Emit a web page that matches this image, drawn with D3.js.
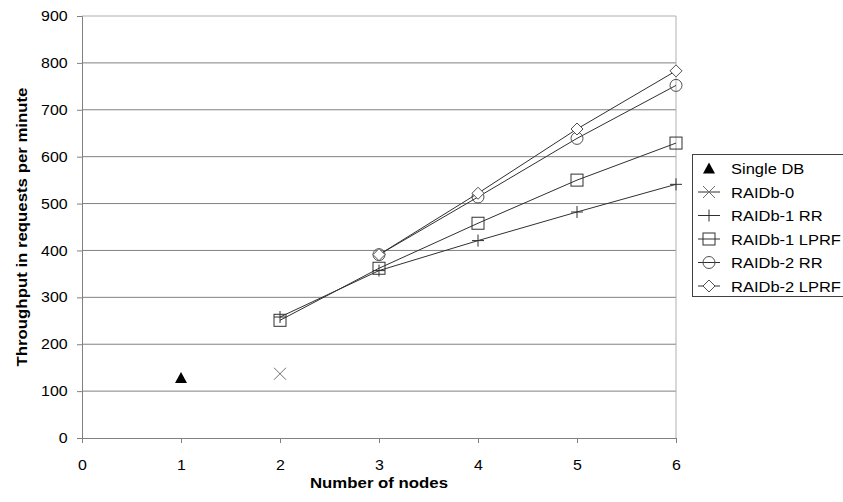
<!DOCTYPE html>
<html>
<head>
<meta charset="utf-8">
<script src="https://cdn.jsdelivr.net/npm/d3@7"></script>
<style>
  body { margin: 0; background: #fff; }
  text { font-family: "Liberation Sans", Arial, sans-serif; }
</style>
</head>
<body>
<svg id="chart"></svg>
<script>
// values
const yTicks = [0, 100, 200, 300, 400, 500, 600, 700, 800, 900];
const xTicks = [0, 1, 2, 3, 4, 5, 6];

const singleDB   = [[1, 128]];
const raidb0     = [[2, 137]];
const raidb1RR   = [[2, 258], [3, 357], [4, 421], [5, 482], [6, 541]];
const raidb1LPRF = [[2, 251], [3, 362], [4, 458], [5, 550], [6, 629]];
const raidb2RR   = [[3, 391], [4, 514], [5, 639], [6, 752]];
const raidb2LPRF = [[3, 391], [4, 522], [5, 659], [6, 783]];

const series = [
  { name: "Single DB",     data: singleDB,   symbol: "triangle" },
  { name: "RAIDb-0",       data: raidb0,     symbol: "x" },
  { name: "RAIDb-1 RR",    data: raidb1RR,   symbol: "plus" },
  { name: "RAIDb-1 LPRF",  data: raidb1LPRF, symbol: "square" },
  { name: "RAIDb-2 RR",    data: raidb2RR,   symbol: "circle" },
  { name: "RAIDb-2 LPRF",  data: raidb2LPRF, symbol: "diamond" }
];

const width = 843, height = 502;
const margin = { top: 16, right: 167, bottom: 64, left: 82 };
const textStretch = 1.1;   // the original font is a bit wider than Arial

const svg = d3.select("#chart")
  .attr("width", width)
  .attr("height", height);

const x = d3.scaleLinear()
  .domain([0, 6])
  .range([margin.left, width - margin.right]);

const y = d3.scaleLinear()
  .domain([0, 900])
  .range([height - margin.bottom, margin.top]);

// gridlines
svg.append("g")
  .selectAll("line")
  .data(yTicks.filter(d => d > 0))
  .enter()
  .append("line")
    .attr("x1", x(0))
    .attr("x2", x(6))
    .attr("y1", d => y(d))
    .attr("y2", d => y(d))
    .attr("stroke", d => d === 900 ? "#b0b0b0" : "#808080")
    .attr("stroke-width", 1);

// right border of plot area
svg.append("line")
  .attr("x1", x(6)).attr("x2", x(6))
  .attr("y1", y(900)).attr("y2", y(0))
  .attr("stroke", "#b0b0b0");

// axes
const yAxis = d3.axisLeft(y).tickValues(yTicks).tickFormat(d3.format("d")).tickSize(5).tickPadding(8);
const gy = svg.append("g")
  .attr("transform", `translate(${x(0)}, 0)`)
  .call(yAxis);

const xAxis = d3.axisBottom(x).tickValues(xTicks).tickFormat(d3.format("d")).tickSize(5).tickPadding(17);
const gx = svg.append("g")
  .attr("transform", `translate(0, ${y(0)})`)
  .call(xAxis);

[gx, gy].forEach(g => {
  g.select(".domain").attr("stroke", "#808080");
  g.selectAll(".tick line").attr("stroke", "#808080");
  g.selectAll(".tick text")
    .attr("fill", "#000")
    .attr("transform", `scale(${textStretch},1)`)
    .style("font-family", "'Liberation Sans', Arial, sans-serif")
    .style("font-size", "14.5px");
});

// axis titles
svg.append("text")
  .attr("transform", `translate(${x(3)}, 488) scale(1.2,1)`)
  .attr("text-anchor", "middle")
  .style("font-size", "14px")
  .style("font-weight", "bold")
  .text("Number of nodes");

svg.append("text")
  .attr("transform", `translate(27, ${(y(0) + y(900)) / 2}) rotate(-90) scale(1.2,1)`)
  .attr("text-anchor", "middle")
  .style("font-size", "14px")
  .style("font-weight", "bold")
  .text("Throughput in requests per minute");

// marker drawing
function drawMarker(g, symbol, cx, cy) {
  const s = 6;
  if (symbol === "triangle") {
    g.append("path")
      .attr("d", `M${cx},${cy - 6}L${cx + 6},${cy + 5}L${cx - 6},${cy + 5}Z`)
      .attr("fill", "#000");
  } else if (symbol === "x") {
    g.append("path")
      .attr("d", `M${cx - s},${cy - s}L${cx + s},${cy + s}M${cx - s},${cy + s}L${cx + s},${cy - s}`)
      .attr("stroke", "#707070").attr("fill", "none");
  } else if (symbol === "plus") {
    g.append("path")
      .attr("d", `M${cx - s},${cy}L${cx + s},${cy}M${cx},${cy - s}L${cx},${cy + s}`)
      .attr("stroke", "#303030").attr("fill", "none");
  } else if (symbol === "square") {
    g.append("rect")
      .attr("x", cx - s).attr("y", cy - s)
      .attr("width", 2 * s).attr("height", 2 * s)
      .attr("stroke", "#303030").attr("fill", "none");
  } else if (symbol === "circle") {
    g.append("circle")
      .attr("cx", cx).attr("cy", cy).attr("r", s)
      .attr("stroke", "#505050").attr("fill", "none");
  } else if (symbol === "diamond") {
    g.append("path")
      .attr("d", `M${cx},${cy - s}L${cx + s},${cy}L${cx},${cy + s}L${cx - s},${cy}Z`)
      .attr("stroke", "#505050").attr("fill", "#fff");
  }
}

const line = d3.line()
  .x(d => x(d[0]))
  .y(d => y(d[1]));

// series lines and markers
series.forEach(s => {
  const g = svg.append("g");
  if (s.data.length > 1) {
    g.append("path")
      .datum(s.data)
      .attr("d", line)
      .attr("fill", "none")
      .attr("stroke", "#303030")
      .attr("stroke-width", 1);
  }
  s.data.forEach(d => drawMarker(g, s.symbol, x(d[0]), y(d[1])));
});

// legend
const legend = svg.append("g").attr("transform", "translate(692, 154)");
legend.append("rect")
  .attr("x", 0.5).attr("y", 0.5)
  .attr("width", 160).attr("height", 142)
  .attr("fill", "#fff")
  .attr("stroke", "#404040");

series.forEach((s, i) => {
  const ly = 14.5 + i * 23.5;
  const g = legend.append("g");
  if (s.symbol !== "triangle") {
    g.append("line")
      .attr("x1", 6).attr("x2", 28)
      .attr("y1", ly).attr("y2", ly)
      .attr("stroke", "#303030");
  }
  drawMarker(g, s.symbol, 17, ly);
  g.append("text")
    .attr("transform", `translate(39, ${ly + 5.5}) scale(1.1,1)`)
    .style("font-size", "15px")
    .text(s.name);
});
</script>
</body>
</html>
